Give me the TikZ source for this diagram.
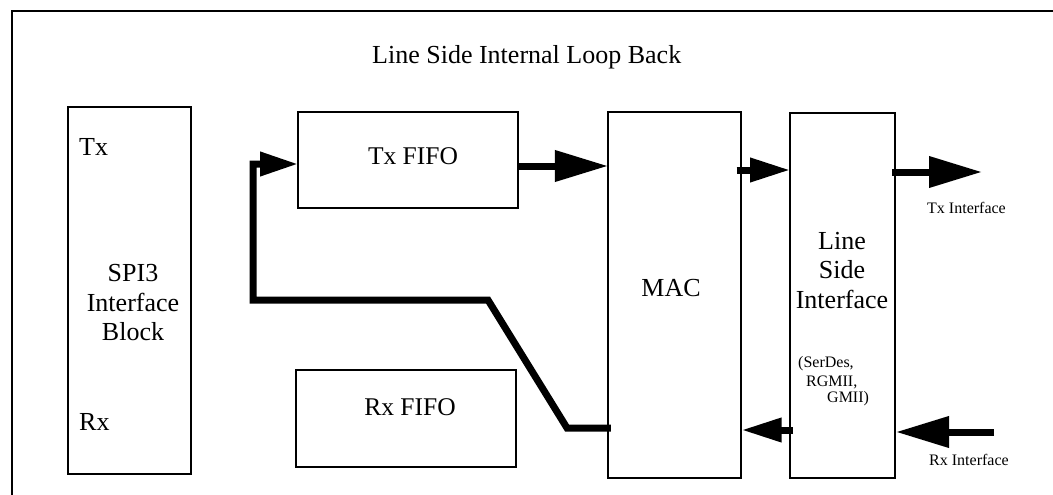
\documentclass[tikz,border=0pt]{standalone}
\usepackage{fontspec}
\setmainfont{Liberation Serif}
\usetikzlibrary{arrows.meta,calc}

\begin{document}
\begin{tikzpicture}[x=1pt,y=-1pt,
  box/.style={draw, line width=2pt, inner sep=0pt, outer sep=0pt},
  big/.style={inner sep=0pt, font=\fontsize{26}{29.5}\selectfont},
  mid/.style={inner sep=0pt, font=\fontsize{25.5}{28}\selectfont},
  small/.style={inner sep=0pt, font=\fontsize{16}{18}\selectfont},
  flow/.style={line width=7pt, line join=miter},
  bighead/.style={-{Triangle[length=53pt,width=30pt]}},
  smallhead/.style={-{Triangle[length=40pt,width=23pt]}},
  loophead/.style={-{Triangle[length=38pt,width=23pt]}}
]
\useasboundingbox (0,0) rectangle (1053,495);

% outer frame (top and left edges)
\draw[line width=2pt, line join=miter] (11.5,495) -- (11.5,11) -- (1053,11);

% title
\node[big, anchor=base west] (title) at (372,64) {Line Side Internal Loop Back};

% blocks
\node[box, minimum width=123.5pt, minimum height=366.5pt] (spi) at (129.25,290.25) {};
\node[box, minimum width=220pt, minimum height=96pt] (txf) at (408,160) {};
\node[box, minimum width=220pt, minimum height=97pt] (rxf) at (406,418.5) {};
\node[box, minimum width=132.7pt, minimum height=366pt] (mac) at (674.3,294.7) {};
\node[box, minimum width=105pt, minimum height=364.7pt] (lsi) at (842.5,295.3) {};

% block labels
\node[big, anchor=base west] (spitx) at (79,155) {Tx};
\node[big, anchor=base west] (spirx) at (79,430) {Rx};
\node[big, align=center] (spilbl) at (133,303) {SPI3\\Interface\\Block};
\node[mid, anchor=base] (txflbl) at (413,164) {Tx FIFO};
\node[mid, anchor=base] (rxflbl) at (410,415) {Rx FIFO};
\node[big, anchor=base] (maclbl) at (671,296) {MAC};
\node[big, align=center] (lsilbl) at (842,270.5) {Line\\Side\\Interface};
\node[small, anchor=base west] (serdes) at (798,367) {(SerDes,};
\node[small, anchor=base west] (rgmii) at (806,386) {RGMII,};
\node[small, anchor=base west] (gmii) at (827,402) {GMII)};
\node[small, anchor=base west] (txif) at (927,213) {Tx Interface};
\node[small, anchor=base west] (rxif) at (929,465) {Rx Interface};

% free ends of the line-side data paths
\coordinate (txout) at (982,172);
\coordinate (rxin) at (994,432);

% transmit path
\draw[flow, bighead] (txf.east |- 0,166) -- (mac.west |- 0,166);
\draw[flow, smallhead] ($(mac.east |- 0,170)+(-4,0)$) -- (lsi.west |- 0,170);
\draw[flow, bighead] ($(lsi.east |- 0,172)+(-3,0)$) -- (txout);

% receive path
\draw[flow, bighead] (rxin) -- ($(lsi.east |- 0,432)+(1,0)$);
\draw[flow, smallhead] ($(lsi.west |- 0,430)+(3,0)$) -- ($(mac.east |- 0,430)+(1,0)$);

% internal loop back from the MAC to the Tx FIFO
\draw[flow, loophead] ($(mac.west |- 0,428)+(3,0)$) -- (567,428) -- (488,300)
  -- (253,300) -- (253,164) -- (txf.west |- 0,164);
\end{tikzpicture}
\end{document}
